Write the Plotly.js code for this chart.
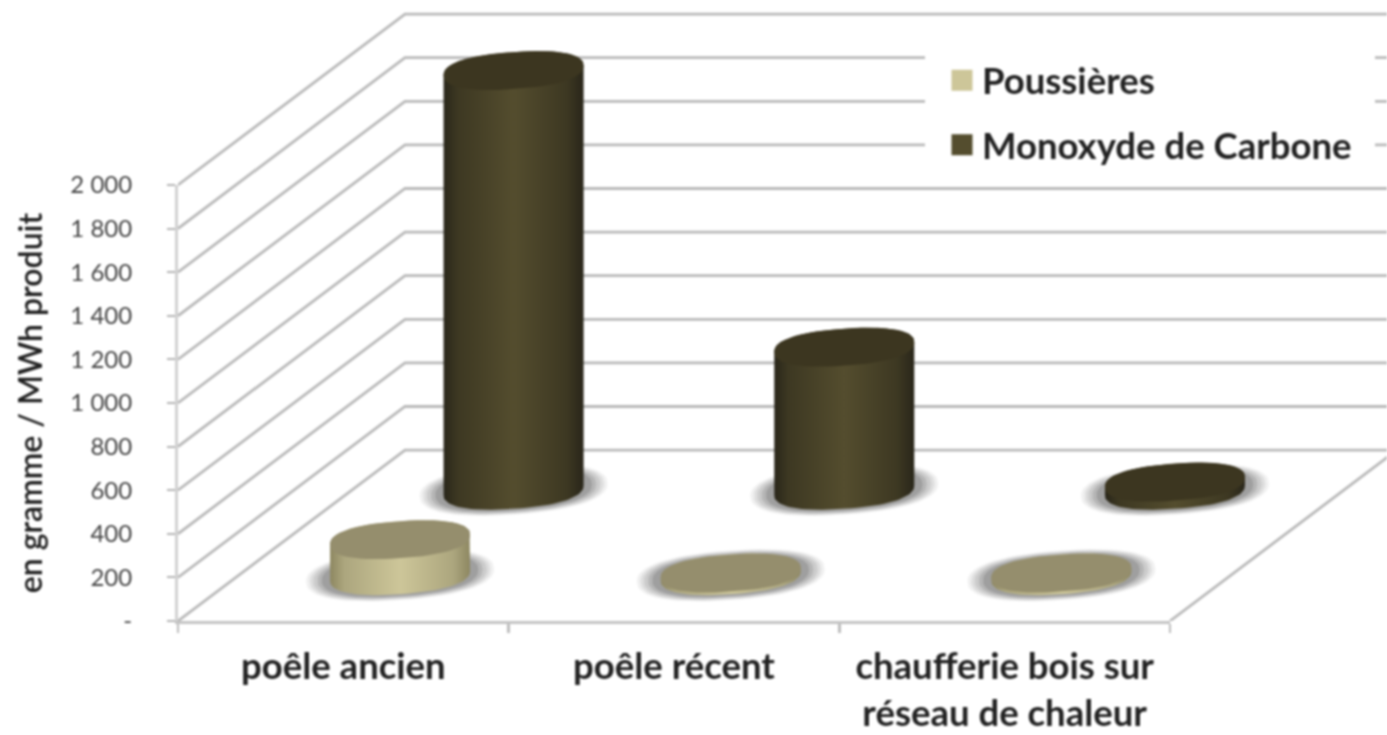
<!DOCTYPE html>
<html><head><meta charset="utf-8">
<script src="https://cdn.plot.ly/plotly-3.0.1.min.js"></script>
<style>html,body{margin:0;padding:0;background:#fff;overflow:hidden}#chart{width:1387px;height:735px;filter:blur(1px)}</style>
</head><body><div id="chart"></div>
<script>
const categories = ['poêle ancien', 'poêle récent', 'chaufferie bois sur<br>réseau de chaleur'];
const poussieres = [165, 12, 12];
const monoxyde = [1925, 656, 37];
const yTickVals = [0, 200, 400, 600, 800, 1000, 1200, 1400, 1600, 1800, 2000];
const yTickText = ['-', '200', '400', '600', '800', '1 000', '1 200', '1 400', '1 600', '1 800', '2 000'];
const catCentres = [0.5, 1.5, 2.5];
const catEdges = [0, 1, 2, 3];

// oblique projection of the 3-D box onto the axes
const DX = 0.6865, DY = 784;
const RX = 0.2117, RY = 85, SKEW = 22, LIFT = 12, ROUND = 0.85;
const FONT = 'Lato, "Open Sans", sans-serif';
const DARK = {edge:'#29261a', mid:'#3d3822', centre:'#544d2e', cap:'#3c3620'};
const LIGHT = {edge:'#8d8761', mid:'#aca67e', centre:'#cdc699', cap:'#958e6d'};
// outer drawing area: the wall runs past the axis frame up to the picture edge
const PLOT_W = 1209, PLOT_H = 621, FRAME_W = 992, FRAME_H = 436;

function ell(cx, base, k, from, to, n) {
  const xs = [], ys = [];
  for (let i = 0; i <= n; i++) {
    const t = from + (to - from) * i / n;
    const c = Math.sign(Math.cos(t)) * Math.pow(Math.abs(Math.cos(t)), ROUND);
    const s = Math.sign(Math.sin(t)) * Math.pow(Math.abs(Math.sin(t)), ROUND);
    xs.push(cx + k * RX * c);
    ys.push(base + k * RY * s + k * SKEW * c);
  }
  return [xs, ys];
}
const traces = [];
const common = {hoverinfo:'skip', showlegend:false, xaxis:'x2', yaxis:'y2'};

// wall and floor lines
const gx = [], gy = [];
yTickVals.forEach(v => { gx.push(0, DX, 5, null); gy.push(v, v + DY, v + DY, null); });
gx.push(3, 3 + DX, null); gy.push(0, DY, null);
traces.push({...common, type:'scatter', mode:'lines', x:gx, y:gy, line:{color:'#b9b9b9', width:2.8}});

function cylinder(idx, depth, value, pal) {
  const cx = catCentres[idx] + depth * DX, base = depth * DY + LIFT;
  [[1.34,.08],[1.29,.10],[1.24,.12],[1.18,.16],[1.12,.20]].forEach(([k, o]) => {
    const [sx, sy] = ell(cx, base + 2, k, 0, 2 * Math.PI, 72);
    traces.push({...common, type:'scatter', mode:'lines', x:sx, y:sy, fill:'toself',
      fillcolor:'rgba(70,70,70,' + o + ')', line:{width:0, color:'rgba(0,0,0,0)'}});
  });
  const [fx, fy] = ell(cx, base, 1, Math.PI, 2 * Math.PI, 48);
  const [bx, by] = ell(cx, base + value, 1, 0, Math.PI, 48);
  traces.push({...common, type:'scatter', mode:'lines', x:fx.concat(bx), y:fy.concat(by), fill:'toself',
    line:{width:0, color:'rgba(0,0,0,0)'},
    fillgradient:{type:'horizontal', start:cx - RX, stop:cx + RX, colorscale:[
      [0, pal.edge], [.1, pal.mid], [.5, pal.centre], [.88, pal.mid], [1, pal.edge]]}});
  const [tx, ty] = ell(cx, base + value, 1, 0, 2 * Math.PI, 72);
  traces.push({...common, type:'scatter', mode:'lines', x:tx, y:ty, fill:'toself',
    fillcolor:pal.cap, line:{width:0, color:'rgba(0,0,0,0)'}});
}
monoxyde.forEach((v, i) => cylinder(i, 0.75, v, DARK));
poussieres.forEach((v, i) => cylinder(i, 0.25, v, LIGHT));

traces.push({type:'scatter', mode:'markers', name:'Poussières', legendgroup:'p', x:[null], y:[null],
  marker:{symbol:'square', size:16, color:LIGHT.centre, line:{color:LIGHT.centre, width:5}}});
traces.push({type:'scatter', mode:'markers', name:'Monoxyde de Carbone', legendgroup:'m', x:[null], y:[null],
  marker:{symbol:'square', size:16, color:DARK.centre, line:{color:DARK.centre, width:5}}});

const layout = {
  width:1387, height:735, autosize:false,
  margin:{l:178, r:0, t:0, b:114},
  paper_bgcolor:'#fff', plot_bgcolor:'rgba(0,0,0,0)',
  hovermode:false, font:{family:FONT, color:'#222'},
  xaxis:{domain:[0, FRAME_W / PLOT_W], anchor:'y', range:[0, 3], tickmode:'array', tickvals:catCentres, ticktext:categories, ticks:'',
    showgrid:false, zeroline:false, showline:true, linecolor:'#c4c4c4', linewidth:3,
    tickfont:{family:FONT, size:36.5, color:'#222', weight:700}, ticklabelstandoff:11,
    minor:{tickmode:'array', tickvals:catEdges, ticks:'outside', ticklen:9, tickwidth:2.5, tickcolor:'#bdbdbd', showgrid:false}},
  yaxis:{domain:[0, FRAME_H / PLOT_H], anchor:'x', range:[0, 2000], tickmode:'array', tickvals:yTickVals, ticktext:yTickText,
    ticks:'outside', ticklen:8, tickwidth:2, tickcolor:'#b5b5b5',
    showgrid:false, zeroline:false, showline:true, linecolor:'#d2d2d2', linewidth:3,
    tickfont:{family:FONT, size:24, color:'#444'}, ticklabelstandoff:30,
    title:{text:'en gramme / MWh produit', font:{family:FONT, size:32, color:'#222', weight:600}, standoff:19}},
  xaxis2:{domain:[0, 1], anchor:'y2', range:[0, 3 * PLOT_W / FRAME_W], visible:false},
  yaxis2:{domain:[0, 1], anchor:'x2', range:[0, 2000 * PLOT_H / FRAME_H], visible:false},
  legend:{x:(942 - 178) / PLOT_W, y:(621 - 50) / PLOT_H, xanchor:'left', yanchor:'top', bgcolor:'rgba(0,0,0,0)', borderwidth:0,
    font:{family:FONT, size:36.5, color:'#222', weight:700}, tracegroupgap:14, itemclick:false, itemdoubleclick:false},
  shapes:[{type:'rect', xref:'paper', yref:'paper', layer:'above',
    x0:(925 - 178) / PLOT_W, x1:(1375 - 178) / PLOT_W, y0:(621 - 170) / PLOT_H, y1:(621 - 46) / PLOT_H,
    fillcolor:'#fff', line:{width:0}}]
};
Plotly.newPlot('chart', traces, layout, {displayModeBar:false, staticPlot:true});
</script></body></html>
